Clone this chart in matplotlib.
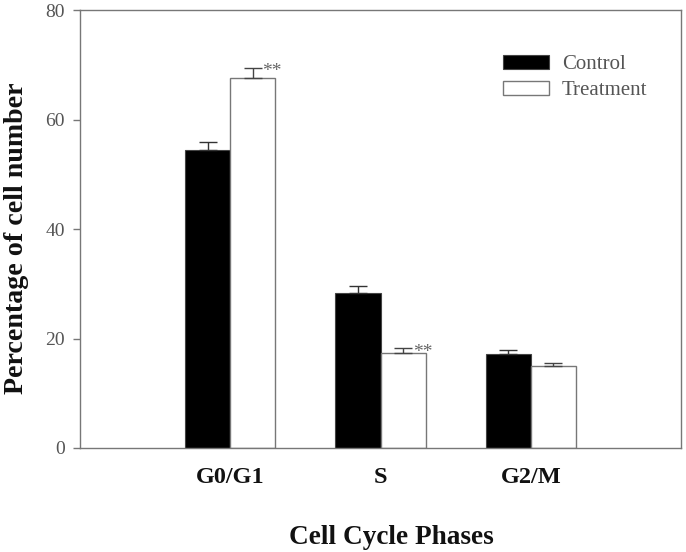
import matplotlib
matplotlib.use("Agg")
import matplotlib.pyplot as plt
import numpy as np

phases = ["G0/G1", "S", "G2/M"]
control = [54.5, 28.3, 17.2]
control_se = [1.5, 1.4, 0.8]
treatment = [67.7, 17.3, 15.0]
treatment_se = [1.8, 1.0, 0.6]
treatment_sig = ["**", "**", ""]
yticks = [0, 20, 40, 60, 80]

plt.rcParams["font.family"] = ["Liberation Serif", "DejaVu Serif"]

fig = plt.figure(figsize=(6.86, 5.52), dpi=100)
ax = fig.add_axes([80/686, 1-448/552, (681-80)/686, (448-10.3)/552])

x = np.arange(1, len(phases) + 1)
w = 0.3
gray = "#777777"

ax.bar(x - w/2, control, w, color="black", edgecolor="#444444", linewidth=0.8,
       label="Control", zorder=2)
ax.bar(x + w/2, treatment, w, color="white", edgecolor=gray, linewidth=1.0,
       label="Treatment", zorder=2)
ax.errorbar(x - w/2, control, yerr=[np.zeros(3), control_se], fmt="none",
            ecolor="#333333", elinewidth=1.0, capsize=6.5, capthick=1.0, zorder=3)
ax.errorbar(x + w/2, treatment, yerr=[np.zeros(3), treatment_se], fmt="none",
            ecolor="#444444", elinewidth=1.0, capsize=6.5, capthick=1.0, zorder=3)

for xi, t, se, s in zip(x, treatment, treatment_se, treatment_sig):
    if s:
        ax.annotate(s, (xi + w/2, t + se), xytext=(7, -3), textcoords="offset points",
                    ha="left", va="center", fontsize=14, color="#666666")

ax.set_xlim(0, 4)
ax.set_ylim(0, 80)
ax.set_yticks(yticks)
ax.set_xticks(x)
ax.set_xticklabels(phases, fontsize=17.5, fontweight="bold", color="#111111")
ax.tick_params(axis="x", length=0, pad=13.5)
ax.tick_params(axis="y", length=5, width=1.0, color=gray, labelsize=14,
               labelcolor="#555555", pad=6, direction="out")
for sp in ax.spines.values():
    sp.set_color(gray)
    sp.set_linewidth(1.0)

ax.set_xlabel("Cell Cycle Phases", fontsize=19.6, fontweight="bold", color="#111111")
ax.set_ylabel("Percentage of cell number", fontsize=20.2, fontweight="bold",
              color="#111111")
ax.xaxis.set_label_coords(0.518, -0.1765)
ax.yaxis.set_label_coords(-0.085, 0.4786)

leg = ax.legend(loc="upper left", bbox_to_anchor=(0.704, 0.897), frameon=False,
                fontsize=15, handlelength=2.2, handleheight=0.6, handletextpad=0.62,
                labelspacing=0.33, borderpad=0, borderaxespad=0)
for t in leg.get_texts():
    t.set_color("#555555")

fig.savefig("out.png", dpi=100)
